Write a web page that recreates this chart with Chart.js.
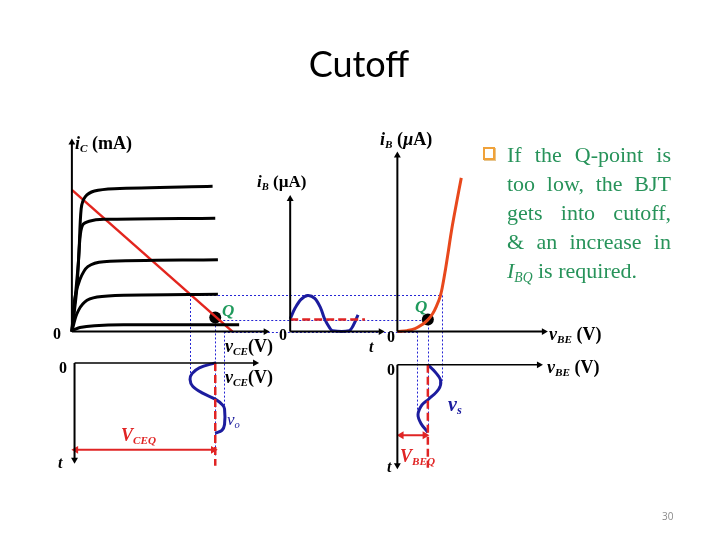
<!DOCTYPE html>
<html>
<head>
<meta charset="utf-8">
<title>Cutoff</title>
<script src="https://cdn.jsdelivr.net/npm/chart.js@4.4.1/dist/chart.umd.min.js"></script>
<style>
body{margin:0;background:#fff;}
#slide{position:relative;width:720px;height:540px;overflow:hidden;background:#fff;}
#plot{position:absolute;left:0;top:0;}
.title{position:absolute;left:0;top:45px;width:718px;text-align:center;font-family:Lato,"Open Sans",sans-serif;font-size:36px;line-height:1;color:#000;}
.note{position:absolute;left:507px;top:140px;width:164px;font-family:"Liberation Serif",serif;font-size:22px;line-height:29px;color:#27935a;}
.note div{text-align:justify;text-align-last:justify;white-space:nowrap;}
.note div.last{text-align-last:left;}
.note sub{font-size:0.62em;font-style:italic;vertical-align:-0.3em;line-height:0;}
.box{position:absolute;left:483px;top:147px;width:8px;height:9px;border:2px solid #f0a23a;box-shadow:1px 1px 0 #e7c690;}
.pg{position:absolute;left:662px;top:509px;font-family:"Open Sans",sans-serif;font-size:10px;color:#8a8a8a;}
.lb{position:absolute;font-family:"Liberation Serif",serif;font-weight:bold;font-size:18px;line-height:1;white-space:nowrap;color:#000;}
.lb i{font-style:italic;}
.lb sub{font-size:0.62em;font-style:italic;vertical-align:-0.28em;line-height:0;}
.red{color:#e02424;}
.blue{color:#1c1c9e;}
.grn{color:#1f9a5c;}
</style>
</head>
<body>
<div id="slide">
  <canvas id="plot" width="720" height="540"></canvas>
  <div class="title">Cutoff</div>
  <div class="box"></div>
  <div class="note">
    <div>If the Q-point is</div>
    <div>too low, the BJT</div>
    <div>gets into cutoff,</div>
    <div>&amp; an increase in</div>
    <div class="last"><i>I<sub>BQ</sub></i> is required.</div>
  </div>
  <div class="pg">30</div>

  <div class="lb" style="left:75px;top:134px"><i>i</i><sub>C</sub> (mA)</div>
  <div class="lb" style="left:257px;top:173px;font-size:17px"><i>i</i><sub>B</sub> (µA)</div>
  <div class="lb" style="left:380px;top:130px"><i>i</i><sub>B</sub> (<i>µ</i>A)</div>
  <div class="lb" style="left:225px;top:337px"><i>v</i><sub>CE</sub>(V)</div>
  <div class="lb" style="left:225px;top:368px"><i>v</i><sub>CE</sub>(V)</div>
  <div class="lb" style="left:549px;top:325px"><i>v</i><sub>BE</sub> (V)</div>
  <div class="lb" style="left:547px;top:358px"><i>v</i><sub>BE</sub> (V)</div>

  <div class="lb" style="left:53px;top:326px;font-size:16px">0</div>
  <div class="lb" style="left:59px;top:360px;font-size:16px">0</div>
  <div class="lb" style="left:279px;top:327px;font-size:16px">0</div>
  <div class="lb" style="left:387px;top:329px;font-size:16px">0</div>
  <div class="lb" style="left:387px;top:362px;font-size:16px">0</div>
  <div class="lb" style="left:58px;top:455px;font-size:16px"><i>t</i></div>
  <div class="lb" style="left:369px;top:339px;font-size:16px"><i>t</i></div>
  <div class="lb" style="left:387px;top:459px;font-size:16px"><i>t</i></div>

  <div class="lb red" style="left:121px;top:426px"><i>V</i><sub>CEQ</sub></div>
  <div class="lb red" style="left:400px;top:447px"><i>V</i><sub>BEQ</sub></div>
  <div class="lb blue" style="left:227px;top:411px;font-size:17px;font-weight:normal"><i>v</i><sub>o</sub></div>
  <div class="lb blue" style="left:448px;top:394px;font-size:20px"><i>v</i><sub>s</sub></div>
  <div class="lb grn" style="left:222px;top:302px;font-size:17px"><i>Q</i></div>
  <div class="lb grn" style="left:415px;top:298px;font-size:17px"><i>Q</i></div>
</div>

<script>
// ---- output characteristics: [vCE (V), iC (mA)] ----
const ibCurve5 = [[0,0],[0.5,3.0],[0.7,5.2],[1.0,5.7],[1.7,5.95],[3.2,6.05],[10.6,6.15]];
const ibCurve4 = [[0,0],[0.37,1.8],[0.6,3.9],[0.8,4.5],[1.3,4.67],[2.4,4.75],[10.8,4.8]];
const ibCurve3 = [[0,0],[0.22,1.4],[0.6,2.2],[1.2,2.75],[2.4,2.96],[11.0,3.04]];
const ibCurve2 = [[0,0],[0.37,0.75],[0.96,1.25],[1.9,1.46],[3.9,1.54],[11.0,1.58]];
const ibCurve1 = [[0,0.04],[0.6,0.17],[1.7,0.25],[3.9,0.29],[12.6,0.29]];
const loadLine = [[0,6.0],[12.1,0]];
const VCEQ = 10.8, ICQ = 0.6;

// ---- output voltage vs time: [vCE (V), t (ms)] ----
const voWave = [[10.8,0],[9.6,0.28],[9.05,0.61],[8.9,0.94],[9.1,1.33],[9.85,1.72],[10.8,2.06],
                [11.35,2.39],[11.5,2.61],[11.5,3.5],[11.3,3.83],[10.8,4.0]];

// ---- base current vs time: [t (ms), iB (µA)] ----
const ibWave = [[0,21],[0.3,39],[0.66,53.5],[1.07,60],[1.49,55],[1.85,39],[2.09,21],
                [2.39,6.5],[2.57,1.6],[3.58,1.6],[3.82,9.7],[4.12,27.6]];
const IBQ = 20;

// ---- input characteristic: [vBE (V), iB (µA)] ----
const inputCurve = [[0,0],[0.2,1.6],[0.36,4.9],[0.5,11.4],[0.62,19.5],[0.72,30],[0.8,43],
                    [0.87,58],[0.92,76],[0.98,104],[1.04,135],[1.1,167],[1.2,212],[1.3,255]];
const VBEQ = 0.62;

// ---- input voltage vs time: [vBE (V), t (ms)] ----
const vsWave = [[0.62,0],[0.78,0.44],[0.88,0.89],[0.84,1.39],[0.64,1.94],[0.5,2.28],
                [0.42,2.83],[0.48,3.33],[0.62,3.83]];

// ---- projection guides ----
const guideIB  = [60, 20, 0];        // iB levels carried across the plots
const guideVCE = [8.9, 10.8, 11.45]; // start on the vCE axis
const guideVBE = [0.9, 0.62, 0.4];   // end on the vBE axis
const dropVCE = [8.9, 10.8, 11.45], dropIC = [1.55, 0.6, 0], dropT1 = [0.7, 5.3, 2.8];
const dropVBE = [0.4, 0.62, 0.9],  dropIB = [0, 20, 60],    dropT3 = [2.9, 3.8, 0.9];

// where each scale sits on the page: value0 -> px0, value1 -> px1
const W = 720, H = 540;
const place = {
  xOut: [0, 67, 12, 229],
  yIC:  [0, 333, 6, 188],
  yT1:  [0, 365, 4, 437],
  xT2:  [0, 289, 4, 356],
  yIB:  [0, 333, 60, 296],
  xIn:  [0, 398, 1, 448],
  yT3:  [0, 367, 4, 439]
};

function fit(id, up){
  const [v0,p0,v1,p1] = place[id];
  const size = id[0]=="x" ? W : H;
  const a = up ? size-p0 : p0, b = up ? size-p1 : p1;
  const k = (b-a)/(v1-v0);
  const min = v0 - a/k;
  return {type:"linear", display:false, bounds:"data", min:min, max:min+size/k, reverse:!up && id[0]=="y"};
}

function pts(arr){ return arr.map(p => ({x:p[0], y:p[1]})); }

function line(arr, xs, ys, color, width, extra){
  return Object.assign({data:pts(arr), xAxisID:xs, yAxisID:ys, showLine:true, borderColor:color,
    borderWidth:width, pointRadius:0, tension:0, fill:false}, extra||{});
}

function axis(arr, xs, ys, rot, width){
  return line(arr, xs, ys, "#000", width||2, {pointRadius:[0,4], pointStyle:"triangle",
    rotation:[0,rot], pointBackgroundColor:"#000", pointBorderWidth:0});
}

function dbl(arr, xs, ys){
  return line(arr, xs, ys, "#e02424", 2, {pointRadius:4.5, pointStyle:"triangle",
    rotation:[270,90], pointBackgroundColor:"#e02424", pointBorderWidth:0});
}

const blueWave = "#1c1c9e", redDash = "#e02424";

// dotted projection lines, each end placed through its own plot's scale
const guides = {
  id:"guides",
  beforeDatasetsDraw(chart){
    const s = chart.scales, ctx = chart.ctx;
    const px = v => Math.round(v) + 0.5;
    ctx.save();
    ctx.strokeStyle = "#2424d4";
    ctx.lineWidth = 1;
    ctx.setLineDash([2,2]);
    ctx.beginPath();
    guideIB.forEach((ib,i) => {
      const y = px(s.yIB.getPixelForValue(ib));
      ctx.moveTo(s.xOut.getPixelForValue(guideVCE[i]), y);
      ctx.lineTo(s.xIn.getPixelForValue(guideVBE[i]), y);
    });
    dropVCE.forEach((v,i) => {
      const x = px(s.xOut.getPixelForValue(v));
      ctx.moveTo(x, s.yIC.getPixelForValue(dropIC[i]));
      ctx.lineTo(x, s.yT1.getPixelForValue(dropT1[i]));
    });
    dropVBE.forEach((v,i) => {
      const x = px(s.xIn.getPixelForValue(v));
      ctx.moveTo(x, s.yIB.getPixelForValue(dropIB[i]));
      ctx.lineTo(x, s.yT3.getPixelForValue(dropT3[i]));
    });
    ctx.stroke();
    ctx.restore();
  }
};

const datasets = [
  // axes
  axis([[0,0],[0,8.0]], "xOut", "yIC", 0, 2),
  axis([[0,0],[14.6,0]], "xOut", "yIC", 90, 2),
  axis([[0.2,0],[13.8,0]], "xOut", "yT1", 90, 1.5),
  axis([[0.2,0],[0.2,5.5]], "xOut", "yT1", 180, 2),
  axis([[0,0],[0,220]], "xT2", "yIB", 0, 2),
  axis([[0,0],[5.5,0]], "xT2", "yIB", 90, 2),
  axis([[0,0],[0,292]], "xIn", "yIB", 0, 2),
  axis([[0,0],[2.98,0]], "xIn", "yIB", 90, 2),
  axis([[0,0],[2.88,0]], "xIn", "yT3", 90, 1.5),
  axis([[0,0],[0,5.7]], "xIn", "yT3", 180, 2),
  // output family and load line
  line(ibCurve5, "xOut", "yIC", "#000", 3, {tension:0.3}),
  line(ibCurve4, "xOut", "yIC", "#000", 3, {tension:0.3}),
  line(ibCurve3, "xOut", "yIC", "#000", 3, {tension:0.3}),
  line(ibCurve2, "xOut", "yIC", "#000", 3, {tension:0.3}),
  line(ibCurve1, "xOut", "yIC", "#000", 3, {tension:0.3}),
  line(loadLine, "xOut", "yIC", "#e3251e", 2.5),
  // quiescent markers
  line([[VCEQ,0],[VCEQ,5.85]], "xOut", "yT1", redDash, 2.5, {borderDash:[8,4]}),
  line([[0,IBQ],[4.54,IBQ]], "xT2", "yIB", redDash, 2.5, {borderDash:[8,4]}),
  line([[VBEQ,0],[VBEQ,5.85]], "xIn", "yT3", redDash, 2.5, {borderDash:[8,4]}),
  dbl([[0.3,4.94],[10.65,4.94]], "xOut", "yT1"),
  dbl([[0.08,4.0],[0.56,4.0]], "xIn", "yT3"),
  // signals
  line(voWave, "xOut", "yT1", blueWave, 3, {tension:0.35}),
  line(ibWave, "xT2", "yIB", blueWave, 3, {tension:0.35}),
  line(vsWave, "xIn", "yT3", blueWave, 3, {tension:0.35}),
  line(inputCurve, "xIn", "yIB", "#e8481c", 3, {tension:0.4}),
  // Q points
  {type:"scatter", data:pts([[VCEQ,ICQ]]), xAxisID:"xOut", yAxisID:"yIC", pointRadius:6, pointBackgroundColor:"#000", pointBorderWidth:0},
  {type:"scatter", data:pts([[VBEQ,IBQ]]), xAxisID:"xIn", yAxisID:"yIB", pointRadius:6, pointBackgroundColor:"#000", pointBorderWidth:0}
];

new Chart(document.getElementById("plot"), {
  type:"scatter",
  data:{datasets:datasets},
  options:{
    responsive:false,
    animation:false,
    devicePixelRatio:1,
    layout:{padding:0},
    plugins:{legend:{display:false}, tooltip:{enabled:false}},
    events:[],
    scales:{
      xOut:fit("xOut", false),
      yIC:fit("yIC", true),
      yT1:fit("yT1", false),
      xT2:fit("xT2", false),
      yIB:fit("yIB", true),
      xIn:fit("xIn", false),
      yT3:fit("yT3", false)
    }
  },
  plugins:[guides]
});
</script>
</body>
</html>
